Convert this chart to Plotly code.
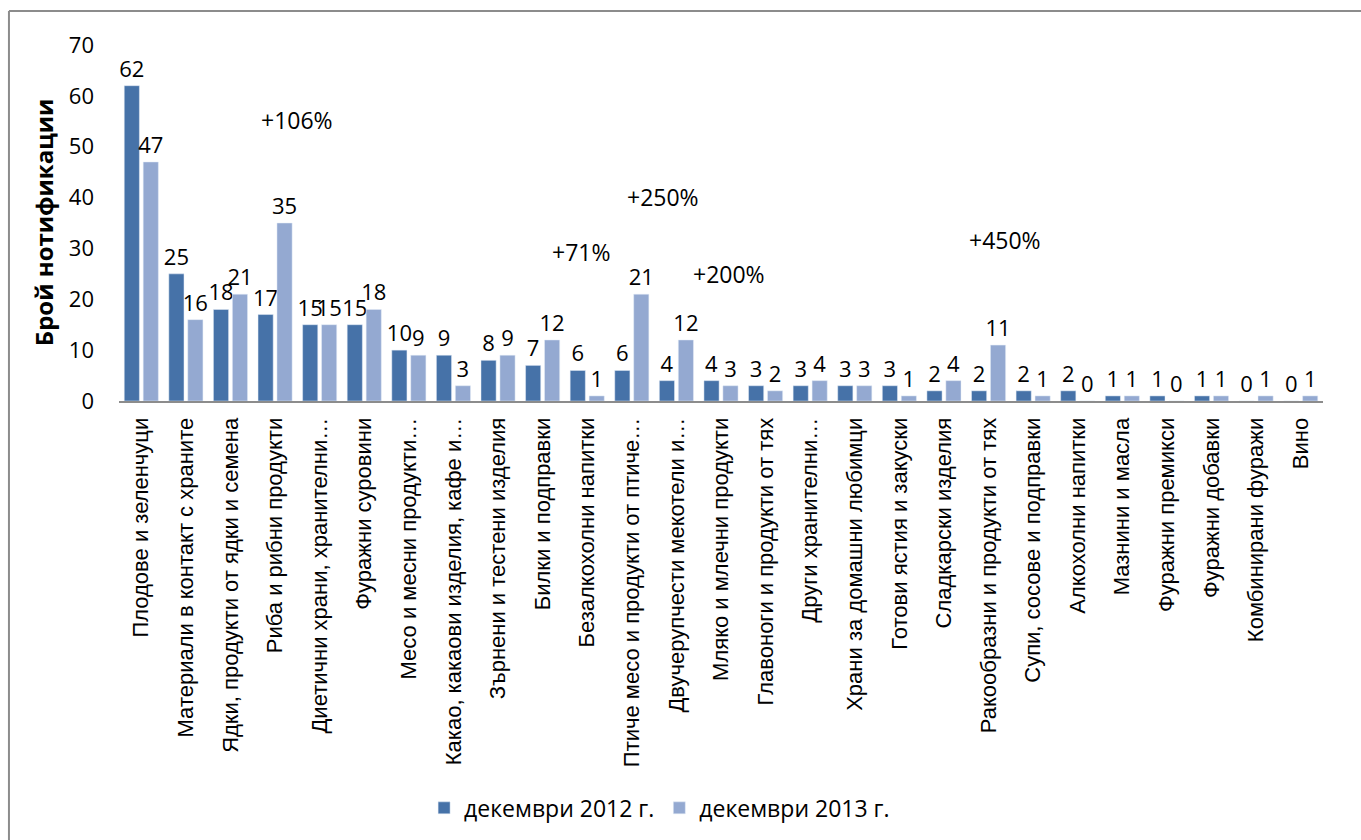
import plotly.graph_objects as go

categories = [
    "Плодове и зеленчуци",
    "Материали в контакт с храните",
    "Ядки, продукти от ядки и семена",
    "Риба и рибни продукти",
    "Диетични храни, хранителни…",
    "Фуражни суровини",
    "Месо и месни продукти…",
    "Какао, какаови изделия, кафе и…",
    "Зърнени и тестени изделия",
    "Билки и подправки",
    "Безалкохолни напитки",
    "Птиче месо и продукти от птиче…",
    "Двучерупчести мекотели и…",
    "Мляко и млечни продукти",
    "Главоноги и продукти от тях",
    "Други хранителни…",
    "Храни за домашни любимци",
    "Готови ястия и закуски",
    "Сладкарски изделия",
    "Ракообразни и продукти от тях",
    "Супи, сосове и подправки",
    "Алкохолни напитки",
    "Мазнини и масла",
    "Фуражни премикси",
    "Фуражни добавки",
    "Комбинирани фуражи",
    "Вино",
]
dec2012 = [62, 25, 18, 17, 15, 15, 10, 9, 8, 7, 6, 6, 4, 4, 3, 3, 3, 3, 2, 2, 2, 2, 1, 1, 1, 0, 0]
dec2013 = [47, 16, 21, 35, 15, 18, 9, 3, 9, 12, 1, 21, 12, 3, 2, 4, 3, 1, 4, 11, 1, 0, 1, 0, 1, 1, 1]

change_labels = ["+106%", "+71%", "+250%", "+200%", "+450%"]
change_x = [3.5, 9.86, 11.7, 13.18, 19.37]
change_y = [55.3, 29.3, 40.2, 25.0, 31.7]

FONT = "Open Sans, Liberation Sans, sans-serif"
num_font = dict(family=FONT, size=22, color="black")

fig = go.Figure()
fig.add_trace(go.Bar(
    x=list(range(len(categories))), y=dec2012, name="декември 2012 г.",
    marker_color="#4672A8", text=dec2012, textposition="outside",
    textfont=num_font, cliponaxis=False, constraintext="none",
))
fig.add_trace(go.Bar(
    x=list(range(len(categories))), y=dec2013, name="декември 2013 г.",
    marker_color="#94A9D1", text=dec2013, textposition="outside",
    textfont=num_font, cliponaxis=False, constraintext="none",
))

for lbl, xx, yy in zip(change_labels, change_x, change_y):
    fig.add_annotation(x=xx, y=yy, text=lbl, showarrow=False, xref="x", yref="y",
                       font=dict(family=FONT, size=23, color="black"))

fig.add_annotation(x=-0.063, y=0.5, xref="paper", yref="paper", text="<b>Брой нотификации</b>",
                   textangle=-90, showarrow=False, xanchor="center", yanchor="middle",
                   font=dict(family=FONT, size=24, color="black"))

fig.update_layout(
    width=1361, height=840,
    margin=dict(l=119, r=38, t=45, b=439, autoexpand=False),
    plot_bgcolor="white", paper_bgcolor="white",
    barmode="group", bargap=0.15, bargroupgap=0.2,
    showlegend=True,
    legend=dict(orientation="h", x=0.449, xanchor="center", y=-1.143, yanchor="middle",
                font=dict(family=FONT, size=23, color="black"),
                traceorder="normal", itemwidth=30),
    shapes=[
        dict(type="line", xref="paper", yref="paper", x0=-0.0914, x1=1.05, y0=1.0955, y1=1.0955,
             line=dict(color="#8c8c8c", width=2)),
        dict(type="line", xref="paper", yref="paper", x0=-0.0914, x1=-0.0914, y0=1.0955, y1=-1.3,
             line=dict(color="#8c8c8c", width=2)),
    ],
)
fig.update_xaxes(
    tickmode="array", tickvals=list(range(len(categories))), ticktext=categories,
    tickangle=-90, range=[-0.5, len(categories) - 0.5], automargin=False,
    tickfont=dict(family="Liberation Sans, Arial, sans-serif", size=22, color="black"),
    showline=True, linecolor="#8c8c8c", linewidth=2, ticks="", showgrid=False,
    ticklabelstandoff=6,
)
fig.update_yaxes(
    range=[0, 70], dtick=10, showgrid=False, zeroline=False, showline=False, automargin=False,
    tickfont=dict(family=FONT, size=22, color="black"),
    ticklabelstandoff=24,
)

fig.write_html("out.html", config={"displayModeBar": False},
               post_script="document.body.style.margin='0';document.body.style.overflow='hidden';")
